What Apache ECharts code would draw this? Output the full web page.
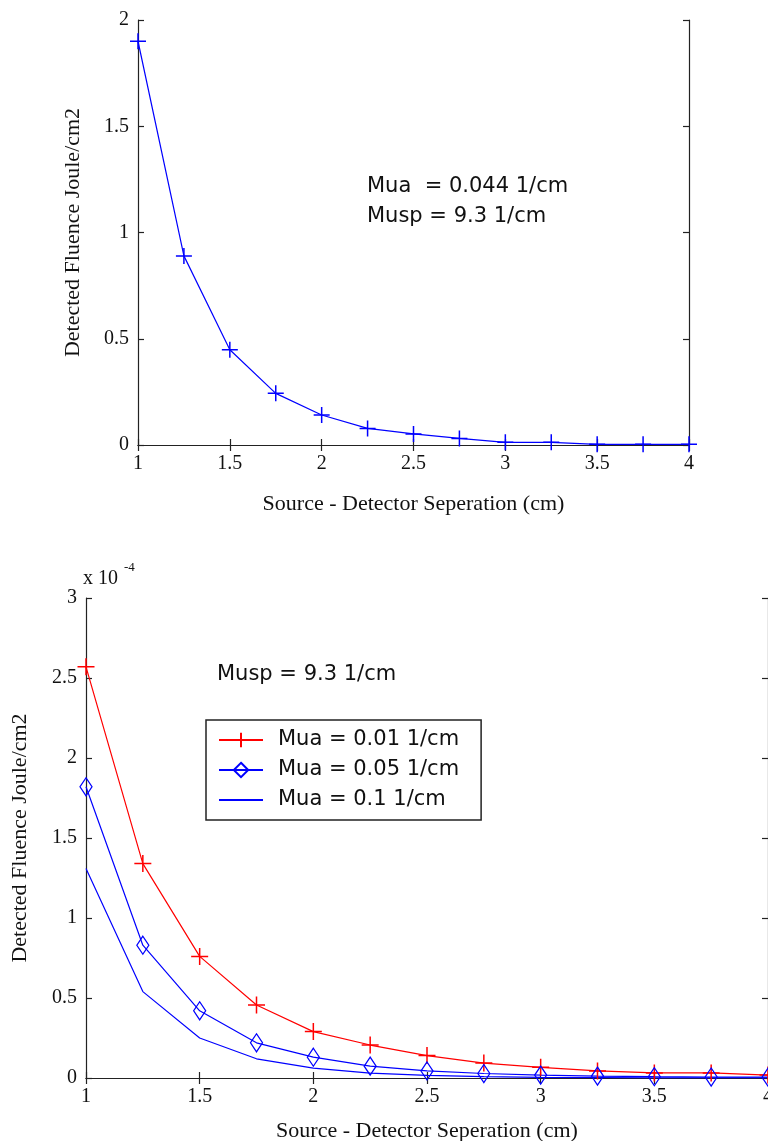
<!DOCTYPE html>
<html>
<head>
<meta charset="utf-8">
<script src="https://cdn.jsdelivr.net/npm/echarts@6/dist/echarts.min.js"></script>
<style>
html,body{margin:0;padding:0;background:#fff;overflow:hidden;}
#chart{width:768px;height:1141px;}
</style>
</head>
<body>
<div id="chart"></div>
<script>
// ---- data ----
const separation = [1, 1.25, 1.5, 1.75, 2, 2.25, 2.5, 2.75, 3, 3.25, 3.5, 3.75, 4];
const fluenceTop = [1.9, 0.89, 0.448, 0.243, 0.141, 0.078, 0.052, 0.031, 0.0125, 0.0125, 0.003, 0.003, 0.003];
// bottom chart values in units of 1e-4 Joule/cm2
const fluenceMua001 = [2.57, 1.34, 0.76, 0.456, 0.29, 0.206, 0.14, 0.093, 0.067, 0.044, 0.032, 0.032, 0.018];
const fluenceMua005 = [1.82, 0.83, 0.42, 0.22, 0.13, 0.074, 0.044, 0.028, 0.018, 0.012, 0.008, 0.006, 0.005];
const fluenceMua01  = [1.31, 0.54, 0.25, 0.12, 0.062, 0.03, 0.016, 0.008, 0.004, 0.002, 0.001, 0.0006, 0.0003];
const seriesNames = ['Mua = 0.01 1/cm', 'Mua = 0.05 1/cm', 'Mua = 0.1 1/cm'];
const xTickLabels = ['1', '1.5', '2', '2.5', '3', '3.5', '4'];
const yTopTickLabels = ['0', '0.5', '1', '1.5', '2'];
const yBottomTickLabels = ['0', '0.5', '1', '1.5', '2', '2.5', '3'];
const xName = 'Source - Detector Seperation (cm)';
const yName = 'Detected Fluence Joule/cm2';
const topNote = ['Mua  = 0.044 1/cm', 'Musp = 9.3 1/cm'];
const bottomNote = 'Musp = 9.3 1/cm';
const scaleNote = 'x 10';
const scaleExp = '-4';

function pairs(ys) { return separation.map((x, i) => [x, ys[i]]); }

const serif = 'Liberation Serif';
const sans = 'DejaVu Sans';
const plus = 'path://M0,8L16,8M8,0L8,16';
const diamond = 'path://M6,0L12,9L6,18L0,9Z';
const axisLine = { show: true, lineStyle: { color: '#222', width: 1.2 } };
const tick = { show: true, inside: true, length: 6, lineStyle: { color: '#222', width: 1.2 } };

function fmt(labels, min, step) {
  return v => { const i = Math.round((v - min) / step); return labels[i] !== undefined ? labels[i] : ''; };
}

function xAxes(grid, nameGap) {
  return [{
    type: 'value', gridIndex: grid, position: 'bottom', min: 1, max: 4, interval: 0.5,
    axisLine, axisTick: tick, splitLine: { show: false },
    axisLabel: { color: '#111', fontFamily: serif, fontSize: 20, margin: 9, formatter: fmt(xTickLabels, 1, 0.5) },
    name: xName, nameLocation: 'middle', nameGap: nameGap,
    nameTextStyle: { color: '#111', fontFamily: serif, fontSize: 22 }
  }, {
    type: 'value', gridIndex: grid, position: 'top', min: 1, max: 4, interval: 0.5,
    axisLine, axisTick: tick, splitLine: { show: false }, axisLabel: { show: false }
  }];
}
function yAxes(grid, max, labels, nameGap) {
  return [{
    type: 'value', gridIndex: grid, position: 'left', min: 0, max: max, interval: 0.5,
    axisLine, axisTick: tick, splitLine: { show: false },
    axisLabel: { color: '#111', fontFamily: serif, fontSize: 20, margin: 9, formatter: fmt(labels, 0, 0.5) },
    name: yName, nameLocation: 'middle', nameGap: nameGap,
    nameTextStyle: { color: '#111', fontFamily: serif, fontSize: 22 }
  }, {
    type: 'value', gridIndex: grid, position: 'right', min: 0, max: max, interval: 0.5,
    axisLine, axisTick: tick, splitLine: { show: false }, axisLabel: { show: false }
  }];
}

const chart = echarts.init(document.getElementById('chart'), null, { renderer: 'canvas' });
chart.setOption({
  animation: false,
  backgroundColor: '#fff',
  grid: [
    { left: 138, top: 20, width: 551, height: 425, outerBoundsMode: 'none', containLabel: false },
    { left: 86, top: 598, width: 682, height: 480, outerBoundsMode: 'none', containLabel: false }
  ],
  xAxis: [...xAxes(0, 48), ...xAxes(1, 42)],
  yAxis: [...yAxes(0, 2, yTopTickLabels, 54), ...yAxes(1, 3, yBottomTickLabels, 55)],
  legend: {
    data: seriesNames,
    orient: 'vertical', left: 206, top: 720,
    backgroundColor: '#fff', borderColor: '#222', borderWidth: 1.5, borderRadius: 0,
    padding: [9, 22, 9, 12],
    itemWidth: 44, itemHeight: 18, itemGap: 8, itemTextGap: 16,
    textStyle: { color: '#111', fontFamily: sans, fontSize: 21, lineHeight: 22, padding: [0, 0, 0, 10] },
    selectedMode: false
  },
  graphic: [
    { type: 'text', left: 367, top: 176, style: { text: topNote[0], font: '21px "DejaVu Sans"', fill: '#111' } },
    { type: 'text', left: 367, top: 206, style: { text: topNote[1], font: '21px "DejaVu Sans"', fill: '#111' } },
    { type: 'text', left: 217, top: 664, style: { text: bottomNote, font: '21px "DejaVu Sans"', fill: '#111' } },
    { type: 'text', left: 83, top: 569, style: { text: scaleNote, font: '20px "Liberation Serif"', fill: '#111' } },
    { type: 'text', left: 124, top: 561, style: { text: scaleExp, font: '13px "Liberation Serif"', fill: '#111' } }
  ],
  series: [
    {
      type: 'line', xAxisIndex: 0, yAxisIndex: 0, data: pairs(fluenceTop),
      lineStyle: { color: '#0000ff', width: 1.2 },
      symbol: plus, symbolSize: 16, showAllSymbol: true,
      itemStyle: { color: '#0000ff', borderColor: '#0000ff', borderWidth: 1.5 }
    },
    {
      name: seriesNames[0], type: 'line', xAxisIndex: 2, yAxisIndex: 2, data: pairs(fluenceMua001),
      lineStyle: { color: '#ff0000', width: 1.2 },
      symbol: plus, symbolSize: 17, showAllSymbol: true,
      itemStyle: { color: '#ff0000', borderColor: '#ff0000', borderWidth: 1.5 }
    },
    {
      name: seriesNames[1], type: 'line', xAxisIndex: 2, yAxisIndex: 2, data: pairs(fluenceMua005),
      lineStyle: { color: '#0000ff', width: 1.2 },
      symbol: diamond, symbolSize: [12, 18], showAllSymbol: true,
      itemStyle: { color: 'rgba(255,255,255,0)', borderColor: '#0000ff', borderWidth: 1.3 }
    },
    {
      name: seriesNames[2], type: 'line', xAxisIndex: 2, yAxisIndex: 2, data: pairs(fluenceMua01),
      lineStyle: { color: '#0000ff', width: 1.2 },
      symbol: 'path://M0,0L1,1', showSymbol: false,
      itemStyle: { color: 'rgba(0,0,0,0)', borderColor: 'rgba(0,0,0,0)', borderWidth: 0 }
    }
  ]
});
</script>
</body>
</html>
